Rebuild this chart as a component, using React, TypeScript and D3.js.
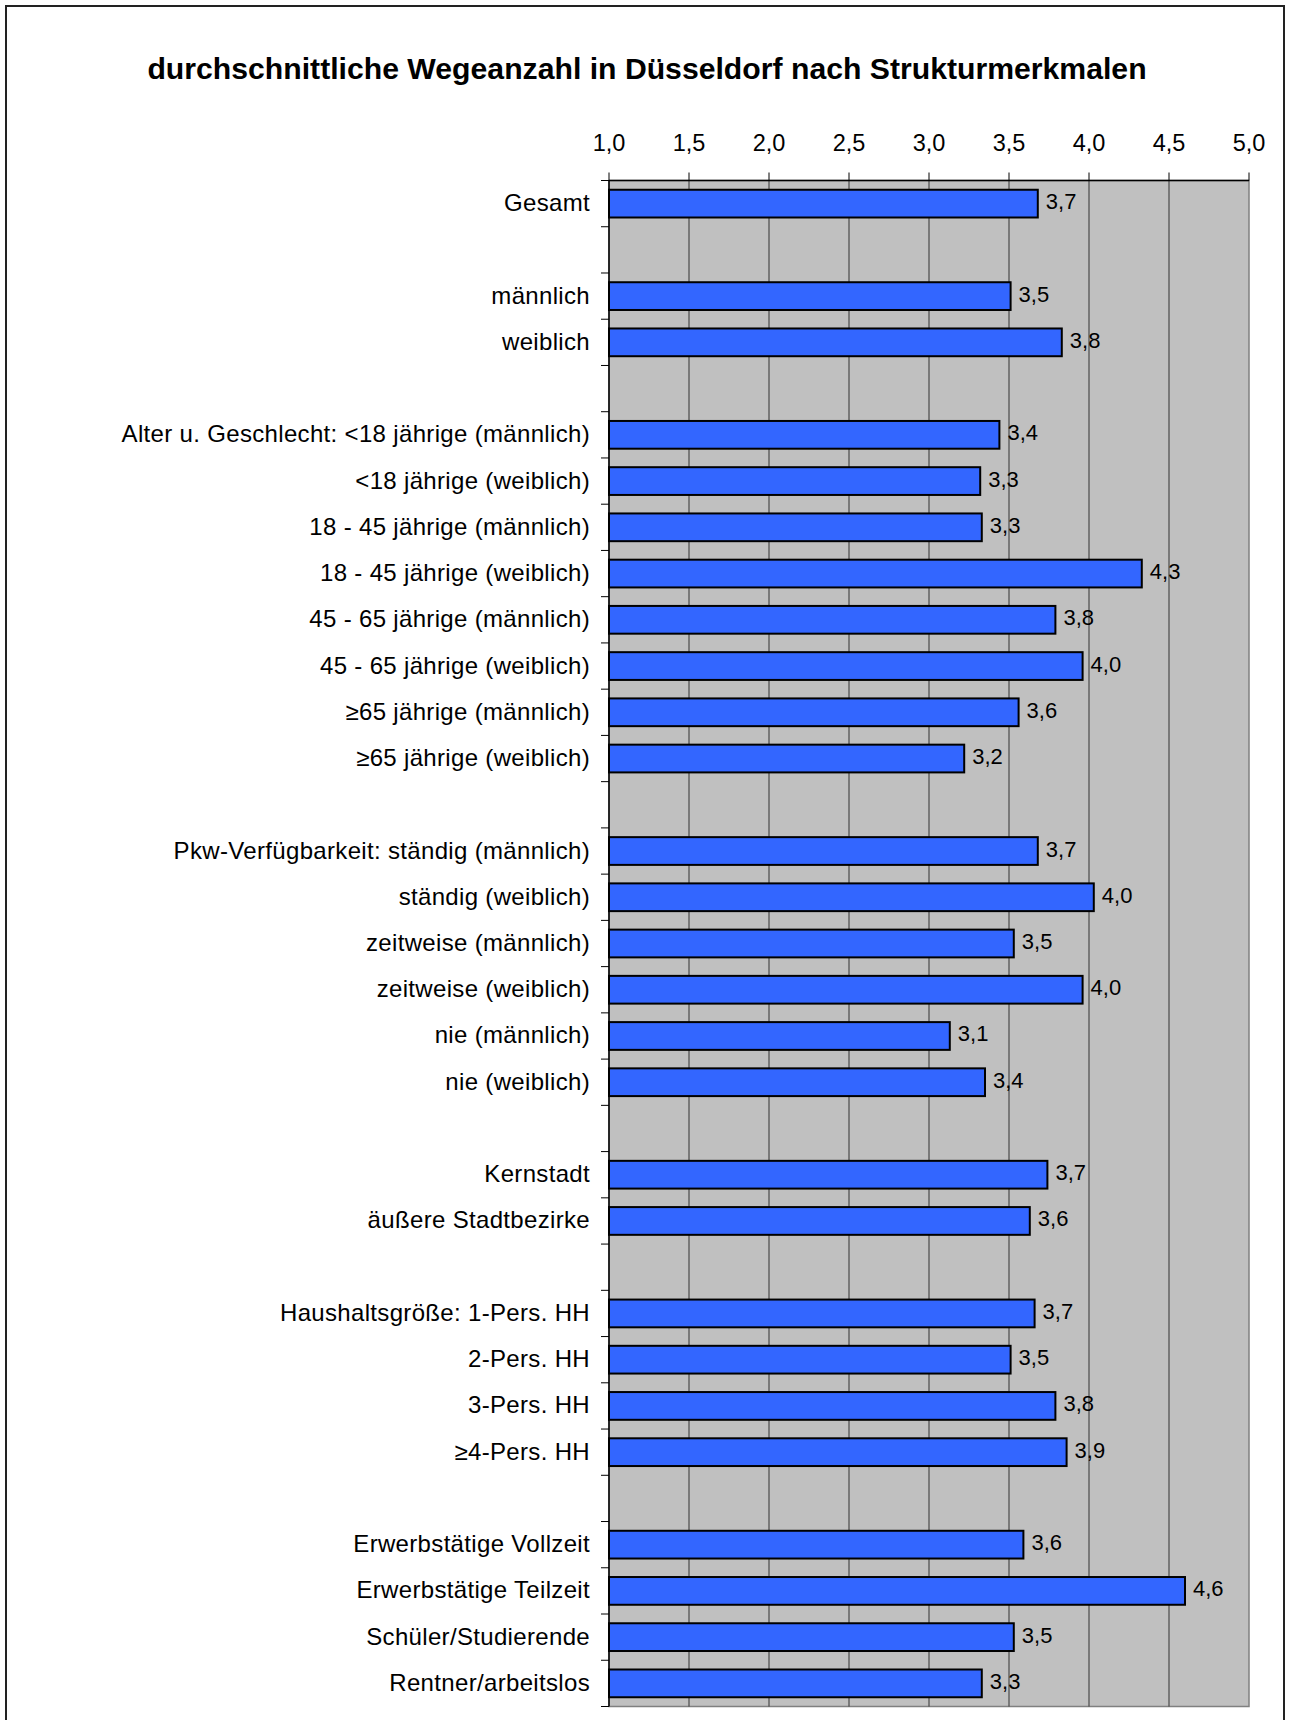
import React from "react";
import * as d3 from "d3";

const title = "durchschnittliche Wegeanzahl in Düsseldorf nach Strukturmerkmalen";

// categories (empty string = spacer row)
const categories: string[] = [
  "Gesamt",
  "",
  "männlich",
  "weiblich",
  "",
  "Alter u. Geschlecht: <18 jährige (männlich)",
  "<18 jährige (weiblich)",
  "18 - 45 jährige (männlich)",
  "18 - 45 jährige (weiblich)",
  "45 - 65 jährige (männlich)",
  "45 - 65 jährige (weiblich)",
  "≥65 jährige (männlich)",
  "≥65 jährige (weiblich)",
  "",
  "Pkw-Verfügbarkeit: ständig (männlich)",
  "ständig (weiblich)",
  "zeitweise (männlich)",
  "zeitweise (weiblich)",
  "nie (männlich)",
  "nie (weiblich)",
  "",
  "Kernstadt",
  "äußere Stadtbezirke",
  "",
  "Haushaltsgröße: 1-Pers. HH",
  "2-Pers. HH",
  "3-Pers. HH",
  "≥4-Pers. HH",
  "",
  "Erwerbstätige Vollzeit",
  "Erwerbstätige Teilzeit",
  "Schüler/Studierende",
  "Rentner/arbeitslos",
];

// values (null = spacer row)
const values: (number | null)[] = [
  3.68,
  null,
  3.51,
  3.83,
  null,
  3.44,
  3.32,
  3.33,
  4.33,
  3.79,
  3.96,
  3.56,
  3.22,
  null,
  3.68,
  4.03,
  3.53,
  3.96,
  3.13,
  3.35,
  null,
  3.74,
  3.63,
  null,
  3.66,
  3.51,
  3.79,
  3.86,
  null,
  3.59,
  4.6,
  3.53,
  3.33,
];

const xTicks: number[] = [1.0, 1.5, 2.0, 2.5, 3.0, 3.5, 4.0, 4.5, 5.0];

const FONT = "'Liberation Sans', Arial, Helvetica, sans-serif";

export default function App() {
  const W = 1294;
  const H = 1720;
  const plotLeft = 609;
  const plotRight = 1249;
  const plotTop = 180.5;
  const plotBottom = 1706.5;

  const x = d3.scaleLinear().domain([1, 5]).range([plotLeft, plotRight]);
  const keys = categories.map((_, i) => String(i));
  const y = d3
    .scaleBand<string>()
    .domain(keys)
    .range([plotTop, plotBottom])
    .paddingInner(0.4)
    .paddingOuter(0.2);
  const fmt = (v: number) => d3.format(".1f")(v).replace(".", ",");

  const boundaries = d3
    .range(categories.length + 1)
    .map((i) => plotTop + (i * (plotBottom - plotTop)) / categories.length);

  return (
    <div style={{ position: "absolute", left: 0, top: 0 }}>
      <svg width={W} height={H} style={{ display: "block", background: "#fff" }}>
        {/* chart border */}
        <rect x={6} y={6} width={1278} height={H + 10} fill="#fff" stroke="#222" strokeWidth={2} />
        {/* title */}
        <text
          x={647}
          y={79}
          textAnchor="middle"
          fontFamily={FONT}
          fontWeight="bold"
          fontSize={30.2}
          fill="#000"
        >
          {title}
        </text>

        {/* plot area */}
        <rect
          x={plotLeft}
          y={plotTop}
          width={plotRight - plotLeft}
          height={plotBottom - plotTop}
          fill="#c0c0c0"
          stroke="#808080"
          strokeWidth={1.5}
        />
        {/* gridlines */}
        {xTicks.slice(1, -1).map((t) => (
          <line key={"g" + t} x1={x(t)} x2={x(t)} y1={plotTop} y2={plotBottom} stroke="#333" strokeWidth={1} />
        ))}

        {/* top axis */}
        <line x1={plotLeft} x2={plotRight} y1={plotTop} y2={plotTop} stroke="#000" strokeWidth={1.5} />
        {xTicks.map((t) => (
          <g key={"t" + t}>
            <line x1={x(t)} x2={x(t)} y1={plotTop - 8} y2={plotTop} stroke="#000" strokeWidth={1} />
            <text
              x={x(t)}
              y={151}
              textAnchor="middle"
              fontFamily={FONT}
              fontSize={23.5}
              fill="#000"
            >
              {fmt(t)}
            </text>
          </g>
        ))}

        {/* left axis */}
        <line x1={plotLeft} x2={plotLeft} y1={plotTop} y2={plotBottom} stroke="#000" strokeWidth={1.5} />
        {boundaries.map((b, i) => (
          <line key={"b" + i} x1={plotLeft - 8} x2={plotLeft} y1={b} y2={b} stroke="#000" strokeWidth={1} />
        ))}

        {/* bars */}
        {categories.map((c, i) => {
          const v = values[i];
          const yc = (y(String(i)) as number) + y.bandwidth() / 2;
          return (
            <g key={"r" + i}>
              {c !== "" && (
                <text
                  x={590}
                  y={yc + 7.5}
                  textAnchor="end"
                  fontFamily={FONT}
                  fontSize={24}
                  letterSpacing={0.33}
                  fill="#000"
                >
                  {c}
                </text>
              )}
              {v !== null && (
                <>
                  <rect
                    x={x(1)}
                    y={y(String(i))}
                    width={x(v) - x(1)}
                    height={y.bandwidth()}
                    fill="#3366ff"
                    stroke="#000"
                    strokeWidth={2}
                  />
                  <text
                    x={x(v) + 8}
                    y={yc + 5.5}
                    fontFamily={FONT}
                    fontSize={22}
                    fill="#000"
                  >
                    {fmt(v)}
                  </text>
                </>
              )}
            </g>
          );
        })}
      </svg>
    </div>
  );
}
